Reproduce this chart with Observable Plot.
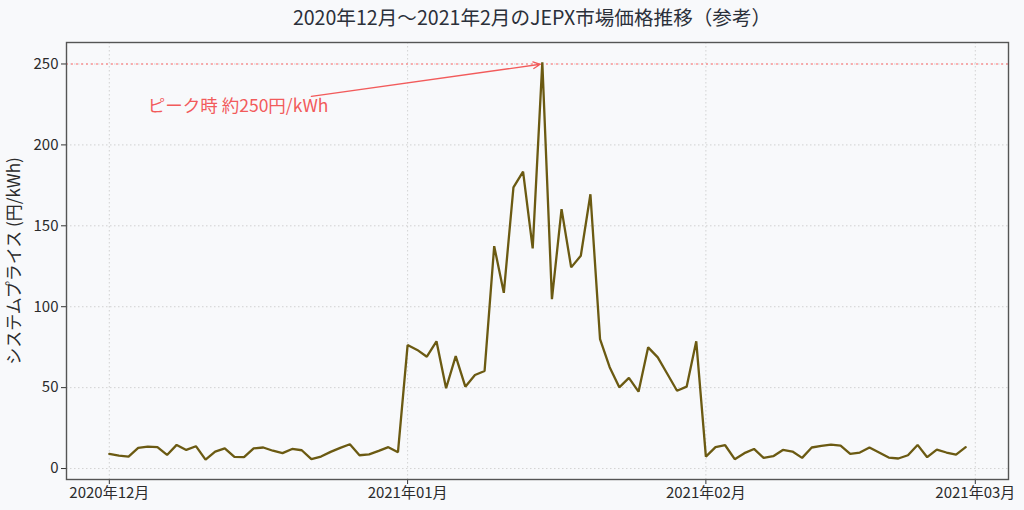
<!DOCTYPE html>
<html>
<head>
<meta charset="utf-8">
<script src="https://cdn.jsdelivr.net/npm/d3@7"></script>
<script src="https://cdn.jsdelivr.net/npm/@observablehq/plot@0.6"></script>
<style>
  html, body { margin: 0; padding: 0; background: #f8f9fb; }
  #wrap { width: 1024px; height: 510px; overflow: hidden; font-family: "Noto Sans CJK JP", "Noto Sans", sans-serif; }
  #title { height: 30px; line-height: 34px; box-sizing: border-box; padding-left: 56px; padding-right: 16px;
           text-align: center; font-size: 19.6px; color: #2b303a; white-space: nowrap; }
</style>
</head>
<body>
<div id="wrap">
  <div id="title">2020年12月～2021年2月のJEPX市場価格推移（参考）</div>
  <div id="chart"></div>
</div>
<script>
const dates = [
  "2020-12-01","2020-12-02","2020-12-03","2020-12-04","2020-12-05","2020-12-06","2020-12-07","2020-12-08","2020-12-09","2020-12-10",
  "2020-12-11","2020-12-12","2020-12-13","2020-12-14","2020-12-15","2020-12-16","2020-12-17","2020-12-18","2020-12-19","2020-12-20",
  "2020-12-21","2020-12-22","2020-12-23","2020-12-24","2020-12-25","2020-12-26","2020-12-27","2020-12-28","2020-12-29","2020-12-30",
  "2020-12-31","2021-01-01","2021-01-02","2021-01-03","2021-01-04","2021-01-05","2021-01-06","2021-01-07","2021-01-08","2021-01-09",
  "2021-01-10","2021-01-11","2021-01-12","2021-01-13","2021-01-14","2021-01-15","2021-01-16","2021-01-17","2021-01-18","2021-01-19",
  "2021-01-20","2021-01-21","2021-01-22","2021-01-23","2021-01-24","2021-01-25","2021-01-26","2021-01-27","2021-01-28","2021-01-29",
  "2021-01-30","2021-01-31","2021-02-01","2021-02-02","2021-02-03","2021-02-04","2021-02-05","2021-02-06","2021-02-07","2021-02-08",
  "2021-02-09","2021-02-10","2021-02-11","2021-02-12","2021-02-13","2021-02-14","2021-02-15","2021-02-16","2021-02-17","2021-02-18",
  "2021-02-19","2021-02-20","2021-02-21","2021-02-22","2021-02-23","2021-02-24","2021-02-25","2021-02-26","2021-02-27","2021-02-28"
];
const prices = [
  9.0, 8.0, 7.4, 12.8, 13.6, 13.2, 8.4, 14.6, 11.5, 13.8,
  5.5, 10.5, 12.5, 7.2, 7.0, 12.5, 13.0, 11.0, 9.5, 12.1,
  11.3, 5.8, 7.4, 10.3, 12.8, 15.0, 8.2, 8.8, 10.9, 13.2,
  10.1, 76.3, 73.3, 69.1, 78.6, 49.6, 69.5, 50.6, 57.8, 60.3,
  137.4, 108.6, 173.7, 183.5, 136.0, 251.0, 104.7, 160.3, 124.3, 131.5,
  169.5, 80.0, 62.6, 50.2, 56.0, 47.5, 74.9, 68.7, 58.4, 48.1,
  50.6, 78.6, 7.4, 13.2, 14.4, 5.8, 9.5, 12.1, 6.6, 7.6,
  11.5, 10.5, 6.6, 13.0, 14.0, 14.8, 14.2, 9.1, 9.9, 13.0,
  9.9, 6.8, 6.2, 8.2, 14.6, 7.0, 11.7, 9.9, 8.6, 13.2
];
const xTickDates = ["2020-12-01", "2021-01-01", "2021-02-01", "2021-03-01"];
const yTicks = [0, 50, 100, 150, 200, 250];
const peakLine = [250];
const peakLabel = "ピーク時 約250円/kWh";
const peakLabelAt = {date: "2020-12-05", price: 224};
const arrowFrom = {date: "2020-12-22", price: 230};
const arrowTo = {date: "2021-01-15", price: 250};
const yLabel = "システムプライス (円/kWh)";

const parse = d3.utcParse("%Y-%m-%d");
const data = dates.map((d, i) => ({date: parse(d), price: prices[i]}));
const first = data[0].date, last = data[data.length - 1].date;
const pad = (last - first) * 0.05;
const yMin = d3.min(prices), yMax = d3.max(prices), yPad = (yMax - yMin) * 0.05;

const fontFamily = "'Noto Sans CJK JP', 'Noto Sans', sans-serif";
const red = "#f25b5b";

const chart = Plot.plot({
  width: 1024,
  height: 480,
  marginLeft: 66,
  marginRight: 16,
  marginTop: 12,
  marginBottom: 31,
  style: {background: "transparent", fontFamily, fontSize: "15px", color: "#2b2b2b"},
  x: {type: "utc", domain: [new Date(+first - pad), new Date(+last + pad)]},
  y: {domain: [yMin - yPad, yMax + yPad]},
  marks: [
    Plot.gridX(xTickDates.map(parse), {stroke: "#c8c8c8", strokeOpacity: 1, strokeDasharray: "1.5,2.5", strokeWidth: 0.8}),
    Plot.gridY(yTicks, {stroke: "#c8c8c8", strokeOpacity: 1, strokeDasharray: "1.5,2.5", strokeWidth: 0.8}),
    Plot.ruleY(peakLine, {stroke: "#ff6b6b", strokeDasharray: "2,3", strokeWidth: 1.1}),
    Plot.line(data, {x: "date", y: "price", stroke: "#6b5a12", strokeWidth: 2.3, strokeLinejoin: "miter"}),
    Plot.arrow([{x1: parse(arrowFrom.date), y1: arrowFrom.price, x2: parse(arrowTo.date), y2: arrowTo.price}],
      {x1: "x1", y1: "y1", x2: "x2", y2: "y2", stroke: red, strokeWidth: 1.3, headLength: 9, headAngle: 50, insetEnd: 2}),
    Plot.text([peakLabelAt], {x: d => parse(d.date), y: "price", text: () => peakLabel, textAnchor: "start",
      fill: red, fontSize: 17.5, fontFamily}),
    Plot.axisX({ticks: xTickDates.map(parse), tickFormat: d => `${d.getUTCFullYear()}年${String(d.getUTCMonth() + 1).padStart(2, "0")}月`,
      tickSize: 5, tickPadding: 3, fontSize: 15, label: null, stroke: "#333"}),
    Plot.axisY({ticks: yTicks, tickSize: 5, tickPadding: 3, fontSize: 15, label: null, stroke: "#333"}),
    Plot.axisY({ticks: [], tickSize: 0, label: yLabel, labelAnchor: "center", labelArrow: "none",
      labelOffset: 59, fontSize: 17, stroke: "#333"}),
    Plot.frame({stroke: "#555", strokeWidth: 1.4})
  ]
});
document.getElementById("chart").appendChild(chart);
</script>
</body>
</html>
